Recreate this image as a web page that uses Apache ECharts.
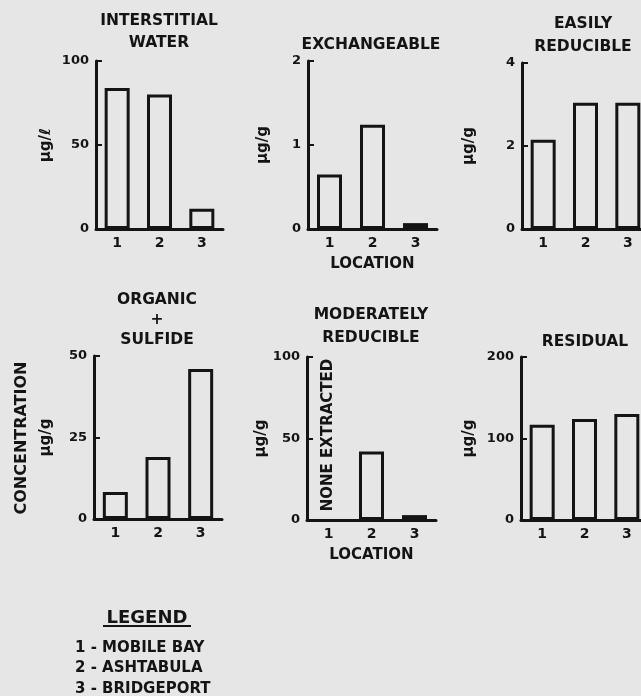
<!DOCTYPE html>
<html>
<head>
<meta charset="utf-8">
<script src="https://cdn.jsdelivr.net/npm/echarts@6/dist/echarts.min.js"></script>
<style>
  html, body { margin: 0; padding: 0; background: #e6e6e6; overflow: hidden; }
  /* a bit wider than the window: the right column is cut off in the original */
  #main { width: 660px; height: 696px; }
</style>
</head>
<body>
<div id="main"></div>
<script>
// locations 1-3 (see legend)
var locations = ['1', '2', '3'];

// concentrations per fraction
var interstitialWater = [84, 80, 12];
var exchangeable = [0.65, 1.24, 0.07];
var easilyReducible = [2.15, 3.04, 3.04];
var organicSulfide = [8.3, 19, 46];
var moderatelyReducible = ['-', 42, 3];   // location 1: none extracted
var residual = [117, 124, 130];

// y-axis maxima / tick steps
var yMax = [100, 2, 4, 50, 100, 200];
var yStep = [50, 1, 2, 25, 50, 100];
var yNames = ['µg/ℓ', 'µg/g', 'µg/g', 'µg/g', 'µg/g', 'µg/g'];

var legendLines = ['1 - MOBILE BAY', '2 - ASHTABULA', '3 - BRIDGEPORT'];

var ink = '#141414';
var FONT = 'DejaVu Sans';

function init() {
  var chart = echarts.init(document.getElementById('main'));

  var seriesData = [interstitialWater, exchangeable, easilyReducible,
                    organicSulfide, moderatelyReducible, residual];

  var grids = [
    {left: 96,  top: 61,  width: 127, height: 168},
    {left: 308, top: 61,  width: 129, height: 168},
    {left: 522, top: 63,  width: 127, height: 166},
    {left: 94,  top: 356, width: 128, height: 163},
    {left: 307, top: 357, width: 129, height: 163},
    {left: 521, top: 357, width: 127, height: 163}
  ];
  var nameGaps = [42, 37, 45, 40, 32, 44];

  var xAxes = [], yAxes = [], series = [];
  for (var i = 0; i < 6; i++) {
    xAxes.push({
      gridIndex: i,
      type: 'category',
      data: locations,
      name: (i == 1 || i == 4) ? 'LOCATION' : '',
      nameLocation: 'middle',
      nameGap: 28,
      nameTextStyle: {color: ink, fontFamily: FONT, fontWeight: 'bold', fontSize: 15},
      axisLine: {lineStyle: {color: ink, width: 3}},
      axisTick: {show: false},
      axisLabel: {color: ink, fontFamily: FONT, fontWeight: 'bold', fontSize: 14, margin: 7}
    });
    yAxes.push({
      gridIndex: i,
      type: 'value',
      min: 0,
      max: yMax[i],
      interval: yStep[i],
      name: yNames[i],
      nameLocation: 'middle',
      nameRotate: 90,
      nameGap: nameGaps[i],
      nameTextStyle: {color: ink, fontFamily: FONT, fontWeight: 'bold', fontSize: 15},
      axisLine: {show: true, lineStyle: {color: ink, width: 3}},
      axisTick: {show: true, inside: true, length: 6, lineStyle: {color: ink, width: 2}},
      splitLine: {show: false},
      axisLabel: {color: ink, fontFamily: FONT, fontWeight: 'bold', fontSize: 13, margin: 7}
    });
    series.push({
      type: 'bar',
      xAxisIndex: i,
      yAxisIndex: i,
      data: seriesData[i],
      barWidth: 25,
      itemStyle: {color: 'rgba(0,0,0,0)', borderColor: ink, borderWidth: 3}
    });
  }

  var tStyle = function (txt, x, y, size, lh) {
    return {
      type: 'text', x: x, y: y,
      style: {text: txt, fill: ink, align: 'center', verticalAlign: 'top',
              font: 'bold ' + size + 'px "' + FONT + '"', lineHeight: lh}
    };
  };

  var graphics = [
    // panel titles
    tStyle('INTERSTITIAL\nWATER', 159, 10, 15.5, 22),
    tStyle('EXCHANGEABLE', 371, 34, 15.5, 22),
    tStyle('EASILY\nREDUCIBLE', 583, 12, 15.5, 23),
    tStyle('ORGANIC\n+\nSULFIDE', 157, 290, 15.5, 20),
    tStyle('MODERATELY\nREDUCIBLE', 371, 303, 15.5, 23),
    tStyle('RESIDUAL', 585, 331, 15.5, 22),
    // shared y label
    {
      type: 'text', x: 22, y: 438, rotation: Math.PI / 2,
      style: {text: 'CONCENTRATION', fill: ink, align: 'center', verticalAlign: 'middle',
              font: 'bold 16px "' + FONT + '"'}
    },
    // note inside moderately reducible panel
    {
      type: 'text', x: 328, y: 435, rotation: Math.PI / 2,
      style: {text: 'NONE EXTRACTED', fill: ink, align: 'center', verticalAlign: 'middle',
              font: 'bold 15px "' + FONT + '"'}
    },
    // legend
    tStyle('LEGEND', 147, 607, 18, 22),
    {
      type: 'line', shape: {x1: 103, y1: 626, x2: 191, y2: 626},
      style: {stroke: ink, lineWidth: 2}
    }
  ];
  for (var k = 0; k < legendLines.length; k++) {
    graphics.push({
      type: 'text', x: 75, y: 648 + k * 20.5,
      style: {text: legendLines[k], fill: ink, align: 'left', verticalAlign: 'middle',
              font: 'bold 15px "' + FONT + '"'}
    });
  }

  chart.setOption({
    backgroundColor: '#e6e6e6',
    animation: false,
    grid: grids,
    xAxis: xAxes,
    yAxis: yAxes,
    series: series,
    graphic: graphics
  });
}

init();
</script>
</body>
</html>
